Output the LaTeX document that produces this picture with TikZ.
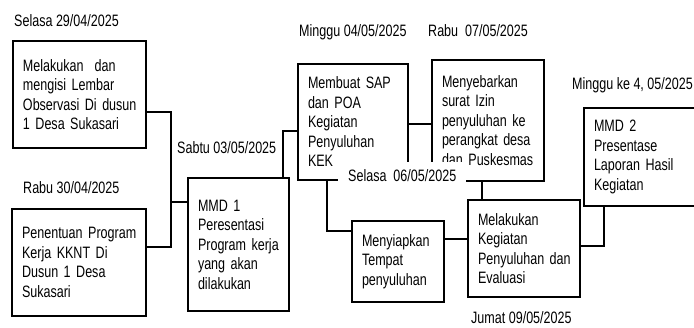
\documentclass[tikz,border=0pt]{standalone}
\usepackage{fontspec}
\setmainfont[FakeStretch=0.76]{Liberation Sans}
\hyphenpenalty=10000
\exhyphenpenalty=10000
\begin{document}
\begin{tikzpicture}[x=1pt,y=-1pt,
  font=\fontsize{16.5}{19.5}\selectfont,
  box/.style={draw, line width=1.2pt, align=left, inner xsep=10pt, inner ysep=2pt},
  lbl/.style={anchor=base west, inner sep=0pt},
  wire/.style={line width=1.1pt}]
\useasboundingbox (0,0) rectangle (694,327);
\clip (0,0) rectangle (694,327);
% boxes
\node[box, minimum width=133pt, minimum height=107pt, text width=113pt] (A) at (79.5,94.5)
  {\mbox{Melakukan~~dan}\\\mbox{mengisi~Lembar}\\\mbox{Observasi~Di~dusun}\\\mbox{1~Desa~Sukasari}};
\node[box, minimum width=134pt, minimum height=107pt, text width=114pt] (B) at (79,262.5)
  {\mbox{Penentuan~Program}\\\mbox{Kerja~KKNT~Di}\\\mbox{Dusun~1~Desa}\\Sukasari};
\node[box, minimum width=101pt, minimum height=133pt, text width=81pt] (C) at (238.5,244.5)
  {MMD~1\\Peresentasi\\\mbox{Program~kerja}\\yang~akan\\dilakukan};
\node[box, minimum width=110pt, minimum height=116pt, text width=90pt] (D) at (353,122)
  {Membuat~SAP\\dan~POA\\Kegiatan\\Penyuluhan\\KEK};
\node[box, minimum width=112pt, minimum height=121pt, text width=92pt] (E) at (488,120.5)
  {Menyebarkan\\surat~Izin\\\mbox{penyuluhan~ke}\\\mbox{perangkat~desa}\\\mbox{dan~Puskesmas}};
\node[box, minimum width=92pt, minimum height=81pt, text width=72pt] (F) at (398,261.5)
  {Menyiapkan\\Tempat\\penyuluhan};
\node[box, minimum width=112pt, minimum height=97pt, text width=92pt] (G) at (524,248.5)
  {Melakukan\\Kegiatan\\\mbox{Penyuluhan~dan}\\Evaluasi};
\node[box, minimum width=130pt, minimum height=98pt, text width=110pt] (H) at (649,157)
  {MMD~2\\Presentase\\Laporan~Hasil\\Kegiatan};
% connectors
\coordinate (ja) at (171,112);
\coordinate (jb) at (171,247);
\coordinate (jc) at (171,202);
\draw[wire] (A.east |- ja) -- (ja) -- (jb) -- (B.east |- jb);
\draw[wire] (jc) -- (C.west |- jc);
\coordinate (jd) at (283,131);
\draw[wire] (C.north -| jd) -- (jd) -- (D.west |- jd);
\coordinate (je) at (420,124);
\draw[wire] (D.east |- je) -- (E.west |- je);
\coordinate (jf) at (327,231);
\draw[wire] (D.south -| jf) -- (jf) -- (F.west |- jf);
\coordinate (jg) at (456,239);
\draw[wire] (F.east |- jg) -- (G.west |- jg);
\coordinate (jh) at (482,190);
\draw[wire] (E.south -| jh) -- (G.north -| jh);
\coordinate (ji) at (604,246);
\draw[wire] (G.east |- ji) -- (ji) -- (H.south -| ji);
% date labels
\node[lbl] (l1) at (14,26) {Selasa 29/04/2025};
\node[lbl] (l2) at (23,193) {Rabu 30/04/2025};
\node[lbl] (l3) at (177,153) {Sabtu 03/05/2025};
\node[lbl] (l4) at (299,36) {Minggu 04/05/2025};
\node[lbl] (l5) at (428,36) {Rabu~~07/05/2025};
\node[lbl] (l6) at (572,89) {Minggu ke 4, 05/2025};
\node[lbl] (l7) at (471,323) {Jumat 09/05/2025};
\node[anchor=base west, fill=white, inner xsep=10pt, inner ysep=7pt] (l8) at (338,181) {Selasa~~06/05/2025};
\end{tikzpicture}
\end{document}
